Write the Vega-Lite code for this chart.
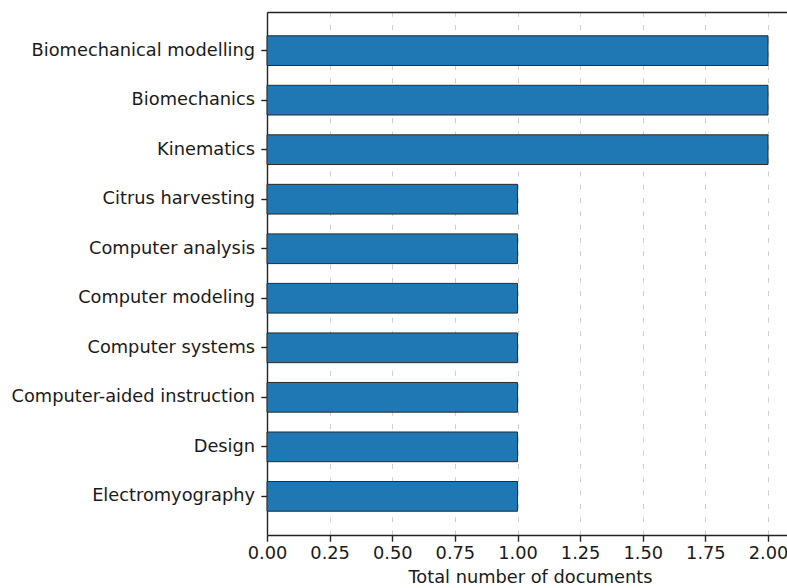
{
  "$schema": "https://vega.github.io/schema/vega-lite/v6.json",
  "autosize": {"type": "none"},
  "padding": {"left": 267, "top": 12, "right": 0, "bottom": 53},
  "width": 520,
  "height": 523,
  "config": {
    "view": {"stroke": null},
    "font": "DejaVu Sans",
    "axis": {
      "labelFont": "DejaVu Sans",
      "titleFont": "DejaVu Sans",
      "labelFontSize": 17.8,
      "titleFontSize": 17.8,
      "titleFontWeight": "normal",
      "labelColor": "#1a1a1a",
      "titleColor": "#1a1a1a",
      "labelLimit": 0,
      "domainColor": "#222222",
      "domainWidth": 1.4,
      "tickColor": "#222222",
      "tickWidth": 1.4,
      "tickSize": 6.2
    }
  },
  "data": {
    "values": [
      {"keyword": "Biomechanical modelling", "documents": 2},
      {"keyword": "Biomechanics", "documents": 2},
      {"keyword": "Kinematics", "documents": 2},
      {"keyword": "Citrus harvesting", "documents": 1},
      {"keyword": "Computer analysis", "documents": 1},
      {"keyword": "Computer modeling", "documents": 1},
      {"keyword": "Computer systems", "documents": 1},
      {"keyword": "Computer-aided instruction", "documents": 1},
      {"keyword": "Design", "documents": 1},
      {"keyword": "Electromyography", "documents": 1}
    ]
  },
  "layer": [
    {
      "mark": {"type": "bar", "color": "#1f77b4", "stroke": "#2b2b2b", "strokeWidth": 1},
      "encoding": {
        "y": {
          "field": "keyword",
          "type": "nominal",
          "sort": null,
          "scale": {"paddingInner": 0.4, "paddingOuter": 0.48},
          "axis": {"title": null, "labelPadding": 6.2, "grid": false}
        },
        "x": {
          "field": "documents",
          "type": "quantitative",
          "scale": {"domain": [0, 2.0758], "nice": false, "zero": true},
          "axis": {
            "title": "Total number of documents",
            "values": [0, 0.25, 0.5, 0.75, 1, 1.25, 1.5, 1.75, 2],
            "format": ".2f",
            "labelFlush": false,
            "labelOverlap": false,
            "labelPadding": 3,
            "titlePadding": 6,
            "titleX": 263,
            "grid": true,
            "gridColor": "#cfcfcf",
            "gridWidth": 1,
            "gridDash": [5, 8.3]
          }
        }
      }
    },
    {
      "mark": {"type": "bar", "opacity": 0},
      "encoding": {
        "y": {"field": "keyword", "type": "nominal", "sort": null},
        "x": {
          "field": "documents",
          "type": "quantitative",
          "axis": {
            "orient": "top",
            "title": null,
            "labels": false,
            "ticks": false,
            "grid": false,
            "domain": true
          }
        }
      }
    }
  ],
  "resolve": {"axis": {"x": "independent"}}
}
